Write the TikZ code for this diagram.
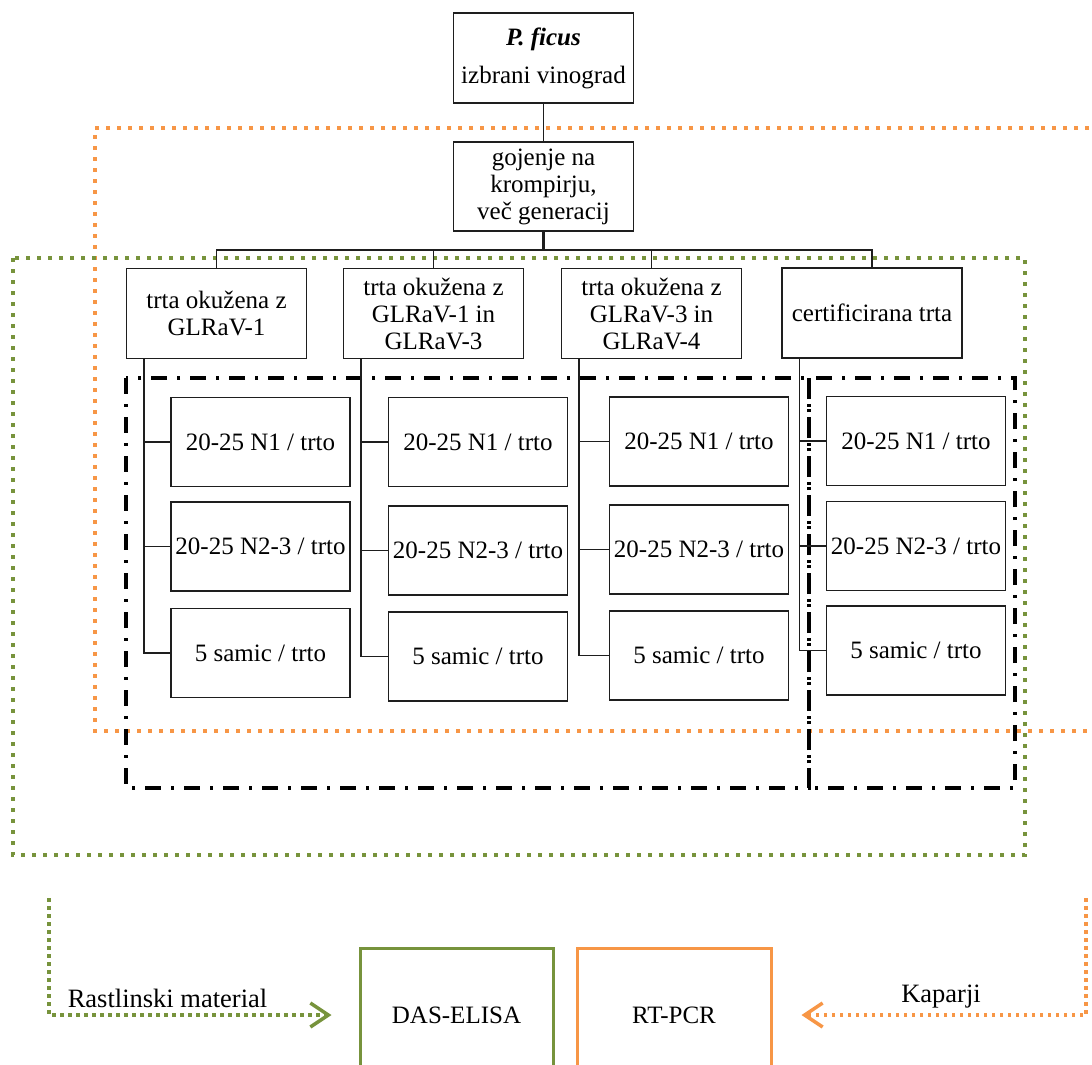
\documentclass[tikz,border=0pt]{standalone}
\usepackage{fontspec}
\setmainfont{Liberation Serif}
\usetikzlibrary{arrows.meta}
\definecolor{figcolor0001}{RGB}{30,30,30}
\definecolor{figcolor0002}{RGB}{119,147,60}
\definecolor{figcolor0003}{RGB}{247,150,70}
\begin{document}
\begin{tikzpicture}[yscale=-1
,every node/.style={font=\fontsize{25}{27}\selectfont,inner sep=0pt,align=center}
,pstyle0/.style={draw=figcolor0001,line width=1.3pt,minimum width=180pt,minimum height=90pt}
,pstyle1/.style={draw=figcolor0001,line width=1.3pt,minimum width=179pt,minimum height=89pt}
,pstyle2/.style={color=figcolor0001,line width=1.3pt}
,pstyle3/.style={color=figcolor0002,line width=4pt,dash pattern=on 4pt off 7pt}
,pstyle4/.style={color=figcolor0003,line width=4pt,dash pattern=on 4pt off 7pt}
,pstyle5/.style={color=black,line width=3.5pt,dash pattern=on 16pt off 10pt on 3pt off 10pt}
,pstyle6/.style={line width=3pt,minimum width=193pt,minimum height=134pt}
,pstyle7/.style={line width=3.5pt,dash pattern=on 3.5pt off 4.5pt,-{Straight Barb[length=18pt,width=24pt,line width=3.5pt]}}
,pstyle8/.style={font=\fontsize{26.5}{28}\selectfont}
]
\useasboundingbox (0pt,0pt) rectangle (1092pt,1065pt);
\clip (0pt,0pt) rectangle (1092pt,1065pt);
% frames
\draw[pstyle4] (1100pt,128pt) -- (95pt,128pt) -- (95pt,731pt) -- (1100pt,731pt);
\draw[pstyle3] (13pt,258pt) rectangle (1025pt,855pt);
\draw[pstyle5] (126pt,378pt) rectangle (809pt,788pt);
\draw[pstyle5] (809pt,378pt) rectangle (1015pt,788pt);
% top of the tree
\node[pstyle0] (top) at (543.5pt,58pt) {\textbf{\textit{P. ficus}}\\[11pt]izbrani vinograd};
\node[pstyle0,minimum height=89pt] (grow) at (543.5pt,186.5pt) {gojenje na\\krompirju,\\več generacij};
\node[pstyle0] (inf1) at (216.5pt,313.5pt) {trta okužena z\\GLRaV-1};
\node[pstyle0] (inf2) at (433.5pt,313.5pt) {trta okužena z\\GLRaV-1 in\\GLRaV-3};
\node[pstyle0] (inf3) at (651.5pt,313.5pt) {trta okužena z\\GLRaV-3 in\\GLRaV-4};
\node[pstyle0] (cert) at (872pt,313pt) {certificirana trta};
\coordinate (bar) at (543.5pt,250pt);
\draw[pstyle2] (top) -- (grow);
\draw[pstyle2,line width=2.5pt] (grow) -- (bar);
\draw[pstyle2] (inf1.north) |- (bar) -| (cert.north);
\draw[pstyle2] (inf2.north) -- (inf2.north |- bar);
\draw[pstyle2] (inf3.north) -- (inf3.north |- bar);
% samples
\node[pstyle1] (s11) at (260.5pt,442pt) {20-25 N1 / trto};
\node[pstyle1] (s12) at (260.5pt,546.5pt) {20-25 N2-3 / trto};
\node[pstyle1] (s13) at (260.5pt,653pt) {5 samic / trto};
\node[pstyle1] (s21) at (478pt,442pt) {20-25 N1 / trto};
\node[pstyle1] (s22) at (478pt,550.5pt) {20-25 N2-3 / trto};
\node[pstyle1] (s23) at (478pt,656.5pt) {5 samic / trto};
\node[pstyle1] (s31) at (699pt,441.5pt) {20-25 N1 / trto};
\node[pstyle1] (s32) at (699pt,549.5pt) {20-25 N2-3 / trto};
\node[pstyle1] (s33) at (699pt,655.5pt) {5 samic / trto};
\node[pstyle1] (s41) at (916pt,441pt) {20-25 N1 / trto};
\node[pstyle1] (s42) at (916pt,546pt) {20-25 N2-3 / trto};
\node[pstyle1] (s43) at (916pt,650.5pt) {5 samic / trto};
\coordinate (v1) at ([xshift=18pt]inf1.south west);
\coordinate (v2) at ([xshift=18pt]inf2.south west);
\coordinate (v3) at ([xshift=18pt]inf3.south west);
\coordinate (v4) at ([xshift=18pt]cert.south west);
\draw[pstyle2] (v1) |- (s11.west);
\draw[pstyle2] (v1) |- (s12.west);
\draw[pstyle2] (v1) |- (s13.west);
\draw[pstyle2] (v2) |- (s21.west);
\draw[pstyle2] (v2) |- (s22.west);
\draw[pstyle2] (v2) |- (s23.west);
\draw[pstyle2] (v3) |- (s31.west);
\draw[pstyle2] (v3) |- (s32.west);
\draw[pstyle2] (v3) |- (s33.west);
\draw[pstyle2] (v4) |- (s41.west);
\draw[pstyle2] (v4) |- (s42.west);
\draw[pstyle2] (v4) |- (s43.west);
% methods
\node[pstyle6,draw=figcolor0002] (das) at (456.5pt,1015pt) {DAS-ELISA};
\node[pstyle6,draw=figcolor0003,minimum width=194pt] (rtpcr) at (674pt,1015pt) {RT-PCR};
\coordinate (plantin) at (49pt,898pt);
\coordinate (insectin) at (1086pt,898pt);
\draw[pstyle7,color=figcolor0002,shorten >=27pt] (plantin) |- (das.west);
\draw[pstyle7,color=figcolor0003,shorten >=29pt] (insectin) |- (rtpcr.east);
\node[pstyle8] (plantlabel) at (167.5pt,998pt) {Rastlinski material};
\node[pstyle8] (insectlabel) at (941pt,997pt) {Kaparji};
\end{tikzpicture}
\end{document}
